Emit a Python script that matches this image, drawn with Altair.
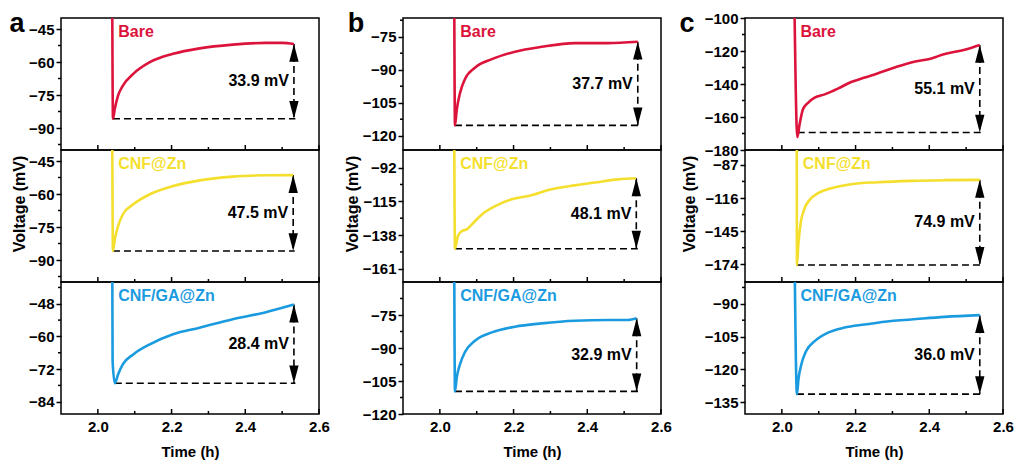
import altair as alt
import pandas as pd

# ---------------- data ----------------
X_DOMAIN = [1.9, 2.6]
x_major = [2.0, 2.2, 2.4, 2.6]
x_minor = [2.1, 2.3, 2.5]
x_labels_fmt = ".1f"

names = ["Bare", "CNF@Zn", "CNF/GA@Zn"]
colors = ["#DC143C", "#F5DF2E", "#1B9BDF"]

# column a
a1_t = [2.039, 2.041, 2.046, 2.055, 2.068, 2.096, 2.141, 2.204, 2.276, 2.366, 2.456, 2.500, 2.532]
a1_v = [-30, -85.8, -81.3, -75.2, -70.7, -65.4, -60.1, -56.3, -53.8, -52.1, -51.3, -51.3, -51.8]
a2_t = [2.039, 2.041, 2.046, 2.055, 2.068, 2.096, 2.141, 2.204, 2.276, 2.366, 2.456, 2.530]
a2_v = [-30, -85.9, -80.6, -74.5, -69.2, -64.7, -60.1, -56.4, -53.8, -52.1, -51.5, -51.4]
a3_t = [2.039, 2.040, 2.046, 2.055, 2.068, 2.096, 2.141, 2.204, 2.276, 2.366, 2.456, 2.532]
a3_v = [-30, -69.0, -77.2, -73.9, -70.2, -66.6, -62.9, -59.2, -56.8, -53.7, -51.1, -48.3]

# column b
b1_t = [2.039, 2.041, 2.046, 2.055, 2.068, 2.096, 2.141, 2.204, 2.276, 2.366, 2.456, 2.537]
b1_v = [-55, -115.3, -108.0, -100.4, -94.3, -89.0, -85.2, -81.8, -79.6, -77.9, -77.9, -77.3]
b2_t = [2.039, 2.041, 2.049, 2.060, 2.073, 2.087, 2.114, 2.150, 2.195, 2.240, 2.303, 2.366, 2.420, 2.483, 2.532]
b2_v = [-70, -147.3, -138.7, -135.2, -134.1, -130.7, -123.9, -118.2, -113.6, -111.4, -106.8, -104.1, -102.2, -100.0, -99.3]
b3_t = [2.039, 2.041, 2.046, 2.055, 2.068, 2.096, 2.141, 2.204, 2.276, 2.366, 2.456, 2.510, 2.534]
b3_v = [-50, -109.7, -103.2, -97.2, -91.9, -86.6, -82.9, -80.3, -78.8, -77.6, -77.3, -77.3, -76.5]

# column c
c1_t = [2.034, 2.042, 2.048, 2.057, 2.071, 2.089, 2.116, 2.152, 2.188, 2.225, 2.261, 2.306, 2.351, 2.406, 2.442, 2.496, 2.537]
c1_v = [-90, -172.2, -164.6, -155.5, -151.4, -148.3, -146.3, -142.8, -138.8, -136.1, -133.5, -130.0, -126.9, -124.5, -121.8, -119.2, -116.3]
c2_t = [2.0405, 2.041, 2.045, 2.051, 2.060, 2.075, 2.098, 2.134, 2.188, 2.261, 2.351, 2.442, 2.537]
c2_v = [-60, -174.6, -155.6, -138.1, -126.4, -117.7, -111.8, -107.4, -103.9, -102.2, -101.0, -100.4, -100.1]
c3_t = [2.034, 2.041, 2.045, 2.053, 2.066, 2.089, 2.125, 2.170, 2.225, 2.297, 2.351, 2.442, 2.537]
c3_v = [-60, -131.4, -124.6, -117.7, -111.6, -107.1, -103.2, -100.9, -99.5, -97.9, -97.2, -96.0, -95.2]

# drop markers: (start of dashed baseline, arrow x, min value, end value, label)
a_drop_x0 = [2.041, 2.041, 2.046]
a_arrow_x = [2.532, 2.530, 2.532]
a_vmin = [-85.8, -85.9, -77.2]
a_vend = [-51.8, -51.4, -48.3]
a_delta = ["33.9 mV", "47.5 mV", "28.4 mV"]

b_drop_x0 = [2.041, 2.041, 2.041]
b_arrow_x = [2.537, 2.533, 2.534]
b_vmin = [-115.3, -147.3, -109.7]
b_vend = [-77.3, -99.3, -76.5]
b_delta = ["37.7 mV", "48.1 mV", "32.9 mV"]

c_drop_x0 = [2.043, 2.041, 2.041]
c_arrow_x = [2.537, 2.537, 2.537]
c_vmin = [-169.4, -174.6, -131.4]
c_vend = [-116.3, -100.1, -95.2]
c_delta = ["55.1 mV", "74.9 mV", "36.0 mV"]

# y axes
a_domains = [[-100, -40], [-100, -40], [-88.5, -40]]
a_ticks = [[-45, -60, -75, -90], [-45, -60, -75, -90], [-48, -60, -72, -84]]
a_minor = [[-52.5, -67.5, -82.5, -97.5], [-52.5, -67.5, -82.5, -97.5], [-42, -54, -66, -78]]
b_domains = [[-126.5, -66.5], [-170, -80], [-120, -60]]
b_ticks = [[-75, -90, -105, -120], [-92, -115, -138, -161], [-75, -90, -105, -120]]
b_minor = [[-67.5, -82.5, -97.5, -112.5], [-103.5, -126.5, -149.5], [-67.5, -82.5, -97.5, -112.5]]
c_domains = [[-180, -100], [-189.5, -74], [-140.5, -80]]
c_ticks = [[-100, -120, -140, -160, -180], [-87, -116, -145, -174], [-90, -105, -120, -135]]
c_minor = [[-110, -130, -150, -170], [-101.5, -130.5, -159.5], [-82.5, -97.5, -112.5, -127.5]]

panel_letters = ["a", "b", "c"]
y_title = "Voltage (mV)"
x_title = "Time (h)"

# ---------------- styling ----------------
W, H = 258, 132
FONT = "Liberation Sans"
letter_x = [-44, -47, -58]
ytitle_x = [-41, -50, -55]


def make_panel(t, v, name, color, x0, xa, vmin, vend, delta, dom, ticks, minor,
               bottom, letter=None, letter_dx=0, ytitle=None, ytitle_dx=0):
    xs = alt.Scale(domain=X_DOMAIN, nice=False, zero=False)
    ys = alt.Scale(domain=dom, nice=False, zero=False)
    if bottom:
        xax = alt.Axis(values=x_major, format=x_labels_fmt, domain=False, ticks=False,
                       grid=False, labelFontSize=15, labelFontWeight="bold",
                       labelColor="black", labelPadding=5, labelFlush=False,
                       labelFont=FONT, title=x_title, titleFont=FONT,
                       titleFontSize=15, titleFontWeight="bold", titleColor="black",
                       titlePadding=10)
    else:
        xax = None
    yax = alt.Axis(values=ticks, tickSize=5, tickWidth=1.5, tickColor="black",
                   domain=False, grid=False, labelFontSize=15, labelFontWeight="bold",
                   labelColor="black", labelPadding=2, labelFont=FONT, title=None,
                   labelOverlap=False)

    def X(f):
        return alt.X(f, type="quantitative", scale=xs, axis=xax)

    def Y(f):
        return alt.Y(f, type="quantitative", scale=ys, axis=yax)

    df = pd.DataFrame({"t": t, "v": v, "i": list(range(len(t)))})
    line = alt.Chart(df).mark_line(color=color, strokeWidth=2.6, clip=True,
                                   interpolate="monotone").encode(
        x=X("t"), y=Y("v"), order=alt.Order("i:Q"))

    dash = [7, 4]
    hdf = pd.DataFrame({"x1": [x0], "x2": [xa + 0.004], "y": [vmin]})
    hline = alt.Chart(hdf).mark_rule(color="black", strokeWidth=1.6, strokeDash=dash).encode(
        x=X("x1"), x2="x2", y=Y("y"))
    vdf = pd.DataFrame({"x": [xa], "y1": [vend], "y2": [vmin]})
    vline = alt.Chart(vdf).mark_rule(color="black", strokeWidth=1.6, strokeDash=dash).encode(
        x=X("x"), y=Y("y1"), y2="y2")
    up = alt.Chart(pd.DataFrame({"x": [xa], "y": [vend]})).mark_point(
        shape="M0,0L0.55,2.1L-0.55,2.1Z", filled=True, size=289, color="black",
        opacity=1, strokeWidth=0).encode(x=X("x"), y=Y("y"))
    down = alt.Chart(pd.DataFrame({"x": [xa], "y": [vmin]})).mark_point(
        shape="M0,0L0.55,-2.1L-0.55,-2.1Z", filled=True, size=289, color="black",
        opacity=1, strokeWidth=0).encode(x=X("x"), y=Y("y"))
    tdf = pd.DataFrame({"x": [xa], "y": [(vend + vmin) / 2], "label": [delta]})
    dtext = alt.Chart(tdf).mark_text(align="right", baseline="middle", dx=-5,
                                     fontSize=16, fontWeight="bold", font=FONT,
                                     color="black").encode(x=X("x"), y=Y("y"), text="label:N")
    ndf = pd.DataFrame({"x": [t[0]], "label": [name]})
    ntext = alt.Chart(ndf).mark_text(align="left", baseline="middle", dx=6,
                                     fontSize=16, fontWeight="bold", font=FONT,
                                     color=color).encode(x=X("x"), y=alt.value(14), text="label:N")
    xmaj = alt.Chart(pd.DataFrame({"tk": x_major})).mark_rule(color="black", strokeWidth=1.5).encode(
        x=X("tk"), y=alt.value(H), y2=alt.value(H - 5))
    xmin = alt.Chart(pd.DataFrame({"tk": x_minor})).mark_rule(color="black", strokeWidth=1.5).encode(
        x=X("tk"), y=alt.value(H), y2=alt.value(H - 3))
    ymin = alt.Chart(pd.DataFrame({"m": minor})).mark_rule(color="black", strokeWidth=1.5).encode(
        y=Y("m"), x=alt.value(0), x2=alt.value(-3))

    layers = [xmaj, xmin, ymin, hline, vline, up, down, line, dtext, ntext]
    if letter is not None:
        layers.append(alt.Chart(pd.DataFrame({"s": [letter]})).mark_text(
            align="center", baseline="alphabetic", fontSize=27, fontWeight="bold",
            font=FONT, color="black").encode(
            text="s:N", x=alt.value(letter_dx), y=alt.value(14)))
    if ytitle is not None:
        layers.append(alt.Chart(pd.DataFrame({"s": [ytitle]})).mark_text(
            align="center", baseline="middle", angle=270, fontSize=16, fontWeight="bold",
            font=FONT, color="black").encode(
            text="s:N", x=alt.value(ytitle_dx), y=alt.value(54)))
    return alt.layer(*layers).properties(width=W, height=H)


cols = [
    ([(a1_t, a1_v), (a2_t, a2_v), (a3_t, a3_v)], a_drop_x0, a_arrow_x, a_vmin, a_vend, a_delta, a_domains, a_ticks, a_minor),
    ([(b1_t, b1_v), (b2_t, b2_v), (b3_t, b3_v)], b_drop_x0, b_arrow_x, b_vmin, b_vend, b_delta, b_domains, b_ticks, b_minor),
    ([(c1_t, c1_v), (c2_t, c2_v), (c3_t, c3_v)], c_drop_x0, c_arrow_x, c_vmin, c_vend, c_delta, c_domains, c_ticks, c_minor),
]

grid = [[None] * 3 for _ in range(3)]
for ci, (series, x0s, xas, vmins, vends, deltas, doms, tks, mins) in enumerate(cols):
    for r in range(3):
        t, v = series[r]
        grid[r][ci] = make_panel(
            t, v, names[r], colors[r], x0s[r], xas[r], vmins[r], vends[r], deltas[r],
            doms[r], tks[r], mins[r], bottom=(r == 2),
            letter=panel_letters[ci] if r == 0 else None, letter_dx=letter_x[ci],
            ytitle=y_title if r == 1 else None, ytitle_dx=ytitle_x[ci])

panels = [grid[r][c] for r in range(3) for c in range(3)]

chart = alt.concat(*panels, columns=3, spacing={"row": 0, "column": 84},
                   bounds="flush").properties(
    padding={"left": 8, "top": 9, "right": 5, "bottom": 2}
).configure(
    font=FONT,
    view=alt.ViewConfig(stroke="black", strokeWidth=1.5),
    background="white",
)

chart.save("out.html", embed_options={"renderer": "svg", "actions": False})
